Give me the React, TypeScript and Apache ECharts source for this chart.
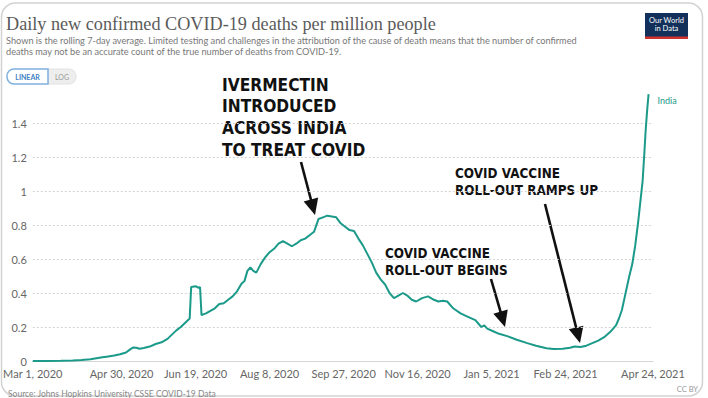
import React, { useEffect, useRef } from "react";
import * as echarts from "echarts";

const dates = [
  "2020-03-01","2020-03-10","2020-03-20","2020-03-28","2020-04-03","2020-04-09","2020-04-13","2020-04-17",
  "2020-04-21","2020-04-25","2020-04-29","2020-05-03","2020-05-06","2020-05-08","2020-05-10","2020-05-12",
  "2020-05-15","2020-05-19","2020-05-23","2020-05-27","2020-05-31","2020-06-03","2020-06-06","2020-06-09",
  "2020-06-12","2020-06-15","2020-06-16","2020-06-19","2020-06-21","2020-06-22","2020-06-23","2020-06-26",
  "2020-06-29","2020-07-02","2020-07-05","2020-07-08","2020-07-11","2020-07-14","2020-07-17","2020-07-20",
  "2020-07-22","2020-07-24","2020-07-26","2020-07-28","2020-07-30","2020-08-02","2020-08-05","2020-08-08",
  "2020-08-11","2020-08-14","2020-08-17","2020-08-20","2020-08-23","2020-08-26","2020-08-29","2020-09-01",
  "2020-09-04","2020-09-07","2020-09-10","2020-09-13","2020-09-16","2020-09-19","2020-09-22","2020-09-25",
  "2020-09-28","2020-10-01","2020-10-04","2020-10-07","2020-10-10","2020-10-13","2020-10-16","2020-10-19",
  "2020-10-22","2020-10-25","2020-10-28","2020-10-31","2020-11-03","2020-11-06","2020-11-09","2020-11-12",
  "2020-11-15","2020-11-19","2020-11-23","2020-11-27","2020-11-30","2020-12-03","2020-12-06","2020-12-10",
  "2020-12-15","2020-12-20","2020-12-25","2020-12-29","2020-12-31","2021-01-02","2021-01-06","2021-01-10",
  "2021-01-16","2021-01-22","2021-01-29","2021-02-04","2021-02-11","2021-02-16","2021-02-22","2021-02-27",
  "2021-03-02","2021-03-06","2021-03-10","2021-03-14","2021-03-18","2021-03-22","2021-03-26","2021-03-30",
  "2021-04-01","2021-04-03","2021-04-05","2021-04-08","2021-04-10","2021-04-12","2021-04-14","2021-04-16",
  "2021-04-17","2021-04-18","2021-04-19","2021-04-20","2021-04-21"
];

const indiaDeaths = [
  0, 0, 0.001, 0.003, 0.006, 0.01, 0.016, 0.022,
  0.027, 0.032, 0.04, 0.05, 0.07, 0.08, 0.078, 0.072,
  0.076, 0.085, 0.1, 0.11, 0.13, 0.155, 0.18, 0.2,
  0.225, 0.25, 0.435, 0.44, 0.43, 0.435, 0.27, 0.28,
  0.295, 0.31, 0.335, 0.34, 0.36, 0.38, 0.41, 0.455,
  0.47, 0.53, 0.55, 0.53, 0.52, 0.57, 0.61, 0.64,
  0.66, 0.69, 0.705, 0.69, 0.675, 0.69, 0.71, 0.72,
  0.74, 0.76, 0.835, 0.845, 0.855, 0.85, 0.845, 0.81,
  0.79, 0.77, 0.765, 0.72, 0.68, 0.63, 0.58, 0.52,
  0.48, 0.45, 0.4, 0.37, 0.385, 0.4, 0.385, 0.36,
  0.35, 0.37, 0.38, 0.36, 0.35, 0.355, 0.35, 0.31,
  0.28, 0.26, 0.24, 0.2, 0.21, 0.19, 0.175, 0.16,
  0.145, 0.125, 0.105, 0.09, 0.075, 0.07, 0.072, 0.078,
  0.085, 0.082, 0.09, 0.105, 0.12, 0.14, 0.17, 0.21,
  0.25, 0.3, 0.38, 0.5, 0.57, 0.68, 0.82, 0.98,
  1.06, 1.2, 1.35, 1.47, 1.57
];

const tickDates = [
  "2020-03-01","2020-04-30","2020-06-19","2020-08-08","2020-09-27",
  "2020-11-16","2021-01-05","2021-02-24","2021-04-24"
];

const monthNames = ["Jan","Feb","Mar","Apr","May","Jun","Jul","Aug","Sep","Oct","Nov","Dec"];

const T0 = Date.UTC(2020, 2, 1);
const dayIndex = (s: string) => {
  const [y, m, d] = s.split("-").map(Number);
  return Math.round((Date.UTC(y, m - 1, d) - T0) / 86400000);
};
const fmtDay = (v: number) => {
  const dt = new Date(T0 + Math.round(v) * 86400000);
  return `${monthNames[dt.getUTCMonth()]} ${dt.getUTCDate()}, ${dt.getUTCFullYear()}`;
};

const TEAL = "#1b9a8a";

function arrow(x1: number, y1: number, x2: number, y2: number) {
  const dx = x2 - x1, dy = y2 - y1;
  const len = Math.sqrt(dx * dx + dy * dy);
  const ux = dx / len, uy = dy / len;
  const hl = 16, hw = 7.5;
  const bx = x2 - ux * hl, by = y2 - uy * hl;
  return [
    { type: "line", shape: { x1, y1, x2: bx + ux * 2, y2: by + uy * 2 }, style: { stroke: "#111", lineWidth: 2.6 } },
    {
      type: "polygon",
      shape: { points: [[x2, y2], [bx - uy * hw, by + ux * hw], [bx + uy * hw, by - ux * hw]] },
      style: { fill: "#111" },
    },
  ];
}

function annot(text: string, x: number, y: number, size: number, lh: number) {
  return {
    type: "text",
    x, y,
    scaleX: 0.86,
    style: {
      text,
      fill: "#111",
      fontSize: size,
      fontWeight: "bold",
      fontFamily: "DejaVu Sans, sans-serif",
      lineHeight: lh,
      verticalAlign: "top",
    },
  };
}

export default function App() {
  const ref = useRef<HTMLDivElement>(null);
  useEffect(() => {
    if (!ref.current) return;
    const chart = echarts.init(ref.current, null, { renderer: "svg" });
    const data = dates.map((d, i) => [dayIndex(d), indiaDeaths[i]]);
    const xTickVals = tickDates.map(dayIndex);
    chart.setOption({
      animation: false,
      backgroundColor: "#fff",
      grid: { left: 29, right: 55, top: 89, bottom: 37 },
      xAxis: {
        type: "value",
        min: 0,
        max: dayIndex(tickDates[tickDates.length - 1]),
        axisLine: { show: true, lineStyle: { color: "#d6d6d6", width: 1 } },
        axisTick: { show: false },
        splitLine: { show: false },
        axisLabel: {
          customValues: xTickVals,
          formatter: (v: number) => fmtDay(v),
          color: "#666",
          fontSize: 11,
          fontFamily: "Lato, sans-serif",
          margin: 7,
        },
      },
      yAxis: {
        type: "value",
        min: 0,
        max: 1.6,
        interval: 0.2,
        axisLine: { show: false },
        axisTick: { show: false },
        axisLabel: {
          showMaxLabel: false,
          formatter: (v: number) => (v === 0 ? "0" : String(+v.toFixed(1))),
          color: "#666",
          fontSize: 11,
          fontFamily: "Lato, sans-serif",
          margin: 6,
        },
        splitLine: {
          show: true,
          showMinLine: false,
          showMaxLine: false,
          lineStyle: { color: "#d4d4d4", type: [2, 2], width: 1 },
        },
      },
      series: [
        {
          type: "line",
          name: "India",
          data,
          showSymbol: false,
          lineStyle: { color: TEAL, width: 2 },
          itemStyle: { color: TEAL },
          endLabel: {
            show: true,
            formatter: "India",
            color: TEAL,
            fontSize: 9,
            fontFamily: "Lato, sans-serif",
            offset: [1, 6],
          },
        },
      ],
      graphic: [
        { type: "rect", shape: { x: 1.5, y: 3, width: 701, height: 393, r: 14 }, style: { fill: "none", stroke: "#d2d2d2", lineWidth: 1.5 }, silent: true },
        {
          type: "text", x: 6, y: 24,
          style: { text: "Daily new confirmed COVID-19 deaths per million people", fill: "#5b5b5b", fontSize: 18.2, fontFamily: "Liberation Serif, serif", verticalAlign: "middle" },
        },
        {
          type: "text", x: 6, y: 35,
          style: {
            text: "Shown is the rolling 7-day average. Limited testing and challenges in the attribution of the cause of death means that the number of confirmed\ndeaths may not be an accurate count of the true number of deaths from COVID-19.",
            fill: "#777", fontSize: 9.2, fontFamily: "Lato, sans-serif", lineHeight: 11, verticalAlign: "top",
          },
        },
        { type: "rect", shape: { x: 48, y: 69, width: 28, height: 15, r: [0, 7, 7, 0] }, style: { fill: "#eeeeee", stroke: "#e2e2e2", lineWidth: 1 } },
        { type: "rect", shape: { x: 7, y: 69, width: 41, height: 15, r: [7, 0, 0, 7] }, style: { fill: "#fff", stroke: "#7fb0de", lineWidth: 1.5 } },
        { type: "text", x: 27.5, y: 76.5, style: { text: "LINEAR", fill: "#3f7fc4", fontSize: 7, fontWeight: "bold", fontFamily: "Lato, sans-serif", align: "center", verticalAlign: "middle" } },
        { type: "text", x: 62, y: 76.5, style: { text: "LOG", fill: "#999", fontSize: 7, fontFamily: "Lato, sans-serif", align: "center", verticalAlign: "middle" } },
        { type: "rect", shape: { x: 645, y: 13, width: 43, height: 26 }, style: { fill: "#12305a" } },
        { type: "rect", shape: { x: 645, y: 36.5, width: 43, height: 2.5 }, style: { fill: "#d0312d" } },
        { type: "text", x: 666.5, y: 24.5, style: { text: "Our World\nin Data", fill: "#fff", fontSize: 7.5, lineHeight: 8.5, fontFamily: "Lato, sans-serif", align: "center", verticalAlign: "middle" } },
        { type: "text", x: 8, y: 394, style: { text: "Source: Johns Hopkins University CSSE COVID-19 Data", fill: "#888", fontSize: 8.5, fontFamily: "Lato, sans-serif", verticalAlign: "middle" } },
        { type: "text", x: 698, y: 389.5, style: { text: "CC BY", fill: "#999", fontSize: 7.5, fontFamily: "Lato, sans-serif", align: "right", verticalAlign: "middle" } },
        annot("IVERMECTIN\nINTRODUCED\nACROSS INDIA\nTO TREAT COVID", 222, 73.5, 18, 21.7),
        annot("COVID VACCINE\nROLL-OUT RAMPS UP", 455, 164.5, 14, 17),
        annot("COVID VACCINE\nROLL-OUT BEGINS", 385, 244.5, 14, 17),
        ...arrow(301, 162, 315, 215),
        ...arrow(491, 279, 505, 327),
        ...arrow(545, 204, 580, 343),
      ],
    });
    return () => chart.dispose();
  }, []);
  return <div ref={ref} style={{ position: "absolute", left: 0, top: 0, width: 708, height: 398 }} />;
}
